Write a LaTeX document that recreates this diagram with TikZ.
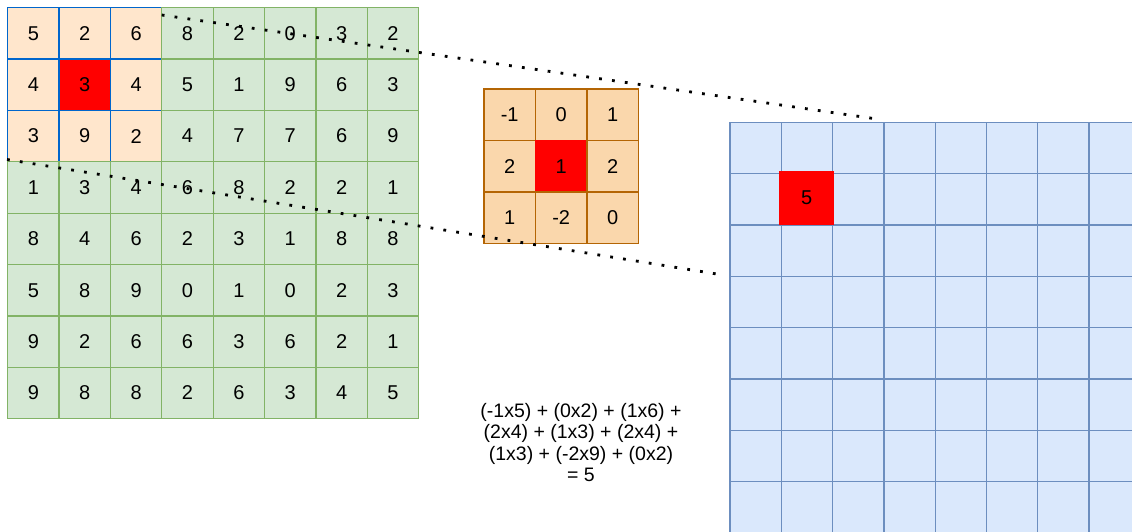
\documentclass[tikz,border=0pt]{standalone}
\usepackage{fontspec}
\setmainfont{Liberation Sans}
\definecolor{gfill}{HTML}{D5E8D4}
\definecolor{gline}{HTML}{82B366}
\definecolor{pfill}{HTML}{FFE6CC}
\definecolor{bline}{HTML}{0066CC}
\definecolor{kfill}{HTML}{FAD7AC}
\definecolor{kline}{HTML}{B46504}
\definecolor{ofill}{HTML}{DAE8FC}
\definecolor{oline}{HTML}{6C8EBF}
\begin{document}
\begin{tikzpicture}[x=1pt,y=-1pt,
  cellbox/.style={draw, minimum width=51.4pt, minimum height=51.4pt, inner sep=0pt,
    line width=1.3pt, anchor=north west, font=\fontsize{20}{24}\selectfont},
  greencell/.style={cellbox, fill=gfill, draw=gline},
  hlcell/.style={cellbox, draw=bline},
  kcell/.style={cellbox, minimum width=51.5pt, minimum height=51.5pt, draw=kline},
  outcell/.style={cellbox, minimum width=51.3pt, minimum height=51.3pt, fill=ofill, draw=oline},
  dotline/.style={line width=2.8pt, dash pattern=on 2.8pt off 10.2pt}
]
\useasboundingbox (0,0) rectangle (1132,531);
\begin{scope}
\clip (0,0) rectangle (1132,531);
% output grid
\foreach \r in {0,...,7}{
  \foreach \c in {0,...,7}{
    \node[outcell] (out-\r-\c) at ({729.3+\c*51.3},{121.7+\r*51.3}) {};
  }
}
\node[cellbox, fill=red, draw=red, minimum width=54pt, minimum height=53pt] (outres) at (779,171) {5};
% input grid: highlighted 3x3 first
\foreach \row [count=\r from 0] in {{5,2,6,8,2,0,3,2},{4,3,4,5,1,9,6,3},{3,9,2,4,7,7,6,9},{1,3,4,6,8,2,2,1},{8,4,6,2,3,1,8,8},{5,8,9,0,1,0,2,3},{9,2,6,6,3,6,2,1},{9,8,8,2,6,3,4,5}}{
  \foreach \v [count=\c from 0] in \row {
    \ifnum\r<3 \ifnum\c<3
      \def\fc{pfill}%
      \ifnum\r=1 \ifnum\c=1 \def\fc{red}\fi\fi
      \node[hlcell, fill=\fc] (in-\r-\c) at ({7+\c*51.375},{7+\r*51.375}) {\v};
    \fi\fi
  }
}
\foreach \row [count=\r from 0] in {{5,2,6,8,2,0,3,2},{4,3,4,5,1,9,6,3},{3,9,2,4,7,7,6,9},{1,3,4,6,8,2,2,1},{8,4,6,2,3,1,8,8},{5,8,9,0,1,0,2,3},{9,2,6,6,3,6,2,1},{9,8,8,2,6,3,4,5}}{
  \foreach \v [count=\c from 0] in \row {
    \pgfmathtruncatemacro\inhl{(\r<3)&&(\c<3)}
    \ifnum\inhl=0
      \node[greencell] (in-\r-\c) at ({7+\c*51.375},{7+\r*51.375}) {\v};
    \fi
  }
}
% kernel
\foreach \row [count=\r from 0] in {{-1,0,1},{2,1,2},{1,-2,0}}{
  \foreach \v [count=\c from 0] in \row {
    \def\fc{kfill}\def\dc{kline}%
    \ifnum\r=1 \ifnum\c=1 \def\fc{red}\def\dc{red}\fi\fi
    \node[kcell, fill=\fc, draw=\dc] (k-\r-\c) at ({483.3+\c*51.5},{88.3+\r*51.5}) {\v};
  }
}
% dotted lines
\coordinate (d1s) at (161.7,15);
\coordinate (d1e) at (877,119);
\coordinate (d2s) at (7,159.5);
\coordinate (d2e) at (723,275);
\draw[dotline] (d1s) -- (d1e);
\draw[dotline] (d2s) -- (d2e);
% formula
\node[align=center, font=\fontsize{19.5}{21.6}\selectfont, inner sep=0pt] (formula) at (581,442.5)
  {(-1x5) + (0x2) + (1x6) +\\(2x4) + (1x3) + (2x4) +\\(1x3) + (-2x9) + (0x2)\\= 5};
\end{scope}
\end{tikzpicture}
\end{document}
